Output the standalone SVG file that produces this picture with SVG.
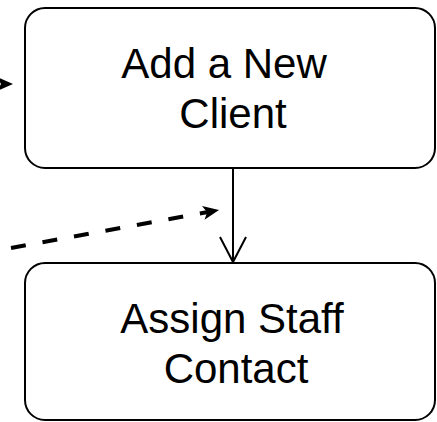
<svg xmlns="http://www.w3.org/2000/svg" width="437" height="422" viewBox="0 0 437 422">
  <style>
    .node rect { fill: #ffffff; stroke: #000000; stroke-width: 2; }
    .node text { font-family: "Liberation Sans", Arial, sans-serif; font-size: 42px; fill: #000000; text-anchor: middle; }
    .edge { fill: none; stroke: #000000; }
    .head { fill: #000000; stroke: none; }
  </style>
  <defs>
    <path id="filled-head" d="M0,0 L-16,-7 L-12,0 L-16,7 Z"/>
  </defs>

  <rect width="437" height="422" fill="#ffffff"/>

  <g id="connectors">
    <!-- incoming arrow at top left, mostly off canvas -->
    <use href="#filled-head" class="head" transform="translate(13,84)"/>
    <!-- dashed incoming connector -->
    <path class="edge" d="M11,248 L208,212" stroke-width="4" stroke-dasharray="15 17"/>
    <use href="#filled-head" class="head" transform="translate(219,210) rotate(-10.3)"/>
    <!-- Add a New Client to Assign Staff Contact -->
    <path class="edge" d="M233,168 L233,262" stroke-width="2"/>
    <path class="edge" d="M220,237 L233,262 L246,237" stroke-width="2"/>
  </g>

  <g id="add-client" class="node">
    <rect x="25" y="8" width="410" height="160" rx="20" ry="20"/>
    <text x="224" y="78">Add a New</text>
    <text x="233" y="128">Client</text>
  </g>

  <g id="assign-staff" class="node">
    <rect x="25" y="263" width="410" height="157" rx="20" ry="20"/>
    <text x="232" y="333">Assign Staff</text>
    <text x="236" y="383">Contact</text>
  </g>
</svg>
